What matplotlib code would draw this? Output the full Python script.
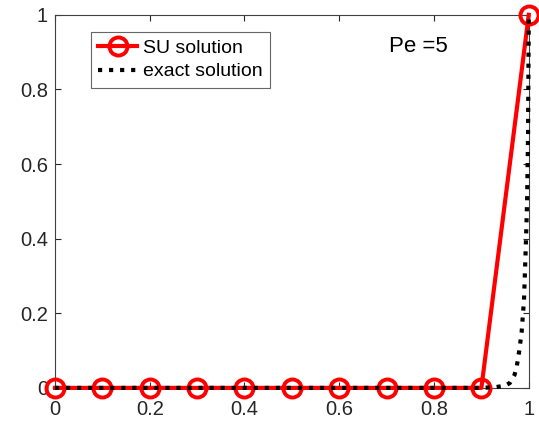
import numpy as np
import matplotlib.pyplot as plt

plt.rcParams['font.family'] = ['Liberation Sans', 'DejaVu Sans']

# SU (streamline upwind) solution on the 10-element mesh
x_su = [0, 0.1, 0.2, 0.3, 0.4, 0.5, 0.6, 0.7, 0.8, 0.9, 1.0]
u_su = [0, 0, 0, 0, 0, 0, 0, 0, 0, 0, 1.0]

# exact solution, boundary layer near x = 1
x_ex = [0, 0.9, 0.93, 0.95, 0.96, 0.97, 0.975, 0.98, 0.985, 0.99,
        0.9935, 0.9965, 0.9985, 1.0]
u_ex = [0, 0, 0.002, 0.006, 0.013, 0.035, 0.06, 0.1, 0.15, 0.236,
        0.37, 0.5, 0.68, 1.0]

fig = plt.figure(figsize=(5.39, 4.23), dpi=100)
ax = fig.add_axes([0.102, 0.083, 0.879, 0.882])

ax.plot(x_su, u_su, color='red', lw=3, marker='o', ms=13,
        mfc='none', mew=2.8, label='SU solution', zorder=3, clip_on=False)
ax.plot(x_ex, u_ex, color='black', lw=3, ls=':', label='exact solution',
        zorder=4, clip_on=False)

ax.set_xlim(0, 1)
ax.set_ylim(0, 1)
ax.set_xticks([0, 0.2, 0.4, 0.6, 0.8, 1])
ax.set_xticklabels(['0', '0.2', '0.4', '0.6', '0.8', '1'])
ax.set_yticks([0, 0.2, 0.4, 0.6, 0.8, 1])
ax.set_yticklabels(['0', '0.2', '0.4', '0.6', '0.8', '1'])
ax.tick_params(direction='in', length=4, width=0.8, colors='#262626',
               labelsize=14.5, top=True, right=True)
ax.tick_params(axis='x', pad=9)
ax.tick_params(axis='y', pad=5)
for s in ax.spines.values():
    s.set_color('#404040')
    s.set_linewidth(0.8)

ax.text(0.705, 0.915, 'Pe =5', transform=ax.transAxes, fontsize=16,
        va='center', ha='left')

leg = ax.legend(loc='upper left', bbox_to_anchor=(0.075, 0.955),
                fontsize=14, frameon=True, fancybox=False,
                edgecolor='#404040', handlelength=2.0, borderpad=0.4,
                labelspacing=0.3, handletextpad=0.3, borderaxespad=0)
leg.get_frame().set_linewidth(0.8)

fig.savefig('out.png', dpi=100)
